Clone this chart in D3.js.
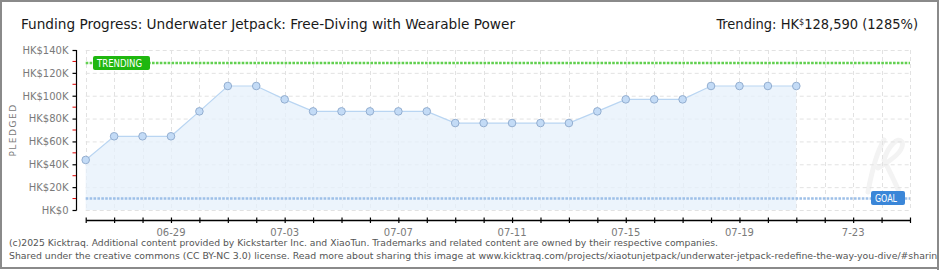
<!DOCTYPE html>
<html>
<head>
<meta charset="utf-8">
<script src="https://cdn.jsdelivr.net/npm/d3@7/dist/d3.min.js"></script>
<style>
  body { margin: 0; background: #fff; }
  svg { display: block; }
</style>
</head>
<body>
<svg width="940" height="270"></svg>
<script>
// data
var days = ["2025-06-26","2025-06-27","2025-06-28","2025-06-29","2025-06-30","2025-07-01","2025-07-02",
            "2025-07-03","2025-07-04","2025-07-05","2025-07-06","2025-07-07","2025-07-08","2025-07-09",
            "2025-07-10","2025-07-11","2025-07-12","2025-07-13","2025-07-14","2025-07-15","2025-07-16",
            "2025-07-17","2025-07-18","2025-07-19","2025-07-20","2025-07-21"];
var pledged = [43800, 64500, 64500, 64500, 86300, 108500, 108500,
               96800, 86300, 86300, 86300, 86300, 86300, 76100,
               76100, 76100, 76100, 76100, 86300, 96800, 96800,
               96800, 108500, 108500, 108500, 108500];
var tickDays = ["2025-06-29","2025-07-03","2025-07-07","2025-07-11","2025-07-15","2025-07-19","2025-07-23"];
var tickLabels = ["06-29","07-03","07-07","07-11","07-15","07-19","7-23"];
var yTicks = [0, 20000, 40000, 60000, 80000, 100000, 120000, 140000];
var yMinor = [10000, 30000, 50000, 70000, 90000, 110000, 130000];
var goal = 10000;
var trending = 128590;

var parse = d3.timeParse("%Y-%m-%d");
var svg = d3.select("svg");

var x = d3.scaleTime()
    .domain([parse("2025-06-26"), parse("2025-07-25")])
    .range([85.7, 910]);
var y = d3.scaleLinear().domain([0, 140000]).range([210, 50]);

var data = days.map(function(d, i) { return {date: parse(d), v: pledged[i]}; });
var allDays = d3.timeDay.range(x.domain()[0], d3.timeDay.offset(x.domain()[1], 1));

// frame
svg.append("rect").attr("x", 1).attr("y", 1).attr("width", 937).attr("height", 267)
  .attr("fill", "#fff").attr("stroke", "#8a8a8a").attr("stroke-width", 2);

// faint logo watermark (drawn as strokes)
svg.append("path")
  .attr("d", "M868,192 C872,170 878,150 884,140 M878,168 C892,160 905,150 902,142 C898,136 888,146 884,160 C890,172 896,184 900,194")
  .attr("fill", "none").attr("stroke", "#f3f3f3").attr("stroke-width", 5).attr("stroke-linecap", "round");

// grid
var grid = svg.append("g").attr("stroke", "#e2e2e2").attr("stroke-dasharray", "4,3").attr("stroke-width", 1);
grid.selectAll(".gy").data(yTicks).enter().append("line")
  .attr("x1", 85.7).attr("x2", 910)
  .attr("y1", function(d) { return y(d) + 0.5; }).attr("y2", function(d) { return y(d) + 0.5; });
grid.selectAll(".gx").data(allDays).enter().append("line")
  .attr("x1", function(d) { return Math.round(x(d)) + 0.5; }).attr("x2", function(d) { return Math.round(x(d)) + 0.5; })
  .attr("y1", 50).attr("y2", 210);

// area + line
var area = d3.area().x(function(d) { return x(d.date); }).y0(y(0)).y1(function(d) { return y(d.v); });
svg.append("path").datum(data).attr("d", area).attr("fill", "#e6f0fb").attr("fill-opacity", 0.75);
var line = d3.line().x(function(d) { return x(d.date); }).y(function(d) { return y(d.v); });
svg.append("path").datum(data).attr("d", line).attr("fill", "none").attr("stroke", "#b9d5f2").attr("stroke-width", 1.2);

// goal and trending lines
function dotted(val, col) {
  svg.append("line").attr("x1", 85.7).attr("x2", 910).attr("y1", y(val)).attr("y2", y(val))
    .attr("stroke", col).attr("stroke-width", 2.6).attr("stroke-dasharray", "2.6,1.3");
}
dotted(goal, "#9ec0e8");
dotted(trending, "#62d050");

// points
svg.selectAll(".pt").data(data).enter().append("circle")
  .attr("cx", function(d) { return x(d.date); }).attr("cy", function(d) { return y(d.v); })
  .attr("r", 3.8).attr("fill", "#c3dbf6").attr("stroke", "#93aed0").attr("stroke-width", 1);

// badges
function badge(bx, by, w, tw, col, label) {
  svg.append("rect").attr("x", bx).attr("y", by).attr("width", w).attr("height", 14)
    .attr("rx", 2).attr("fill", col);
  svg.append("text").attr("x", bx + 4).attr("y", by + 11).attr("font-family", "DejaVu Sans")
    .attr("font-size", 10).attr("textLength", tw).attr("lengthAdjust", "spacingAndGlyphs")
    .attr("fill", "#fff").text(label);
}
badge(93, 56, 57, 45, "#1fb70f", "TRENDING");
badge(871, 191, 34, 22, "#3a86d8", "GOAL");

// y axis
var ya = svg.append("g").attr("transform", "translate(76.5,0)")
  .call(d3.axisLeft(y).tickValues(yTicks).tickSize(4).tickPadding(4)
    .tickFormat(function(d) { return "HK$" + (d === 0 ? "0" : (d / 1000) + "K"); }));
ya.select(".domain").attr("stroke", "#000").attr("stroke-width", 1.2).attr("d", "M0,50V210.5");
ya.selectAll(".tick line").attr("stroke", "#000").attr("stroke-width", 1.2);
ya.selectAll(".tick text").attr("font-family", "DejaVu Sans").attr("font-size", 10)
  .attr("fill", "#7a7a7a").attr("dy", "0.34em");
svg.append("g").selectAll("line").data(yMinor).enter().append("line")
  .attr("x1", 72.5).attr("x2", 76).attr("y1", function(d) { return y(d); }).attr("y2", function(d) { return y(d); })
  .attr("stroke", "#dd0000").attr("stroke-width", 1);

svg.append("text").attr("transform", "translate(16,130) rotate(-90)").attr("text-anchor", "middle")
  .attr("font-family", "DejaVu Sans").attr("font-size", 9).attr("letter-spacing", 1.5)
  .attr("fill", "#7a7a7a").text("PLEDGED");

// x axis
var xa = svg.append("g").attr("transform", "translate(0,220)")
  .call(d3.axisBottom(x).tickValues(allDays).tickSizeInner(4).tickSizeOuter(0).tickFormat(""));
xa.select(".domain").attr("stroke", "#000").attr("stroke-width", 1.3);
xa.selectAll(".tick line").attr("stroke", "#000").attr("stroke-width", 1.2).attr("y1", -2.5).attr("y2", 3);
svg.append("g").selectAll("text").data(tickDays).enter().append("text")
  .attr("x", function(d) { return x(parse(d)); }).attr("y", 236).attr("text-anchor", "middle")
  .attr("font-family", "DejaVu Sans").attr("font-size", 10).attr("fill", "#7a7a7a")
  .text(function(d, i) { return tickLabels[i]; });

// title
svg.append("text").attr("x", 21).attr("y", 29).attr("font-family", "DejaVu Sans Condensed")
  .attr("font-size", 14.5).attr("fill", "#1a1a1a").attr("textLength", 494).attr("lengthAdjust", "spacingAndGlyphs")
  .text("Funding Progress: Underwater Jetpack: Free-Diving with Wearable Power");

var tr = svg.append("text").attr("x", 918).attr("y", 29).attr("text-anchor", "end")
  .attr("font-family", "DejaVu Sans Condensed").attr("font-size", 14.5).attr("fill", "#1a1a1a");
tr.append("tspan").text("Trending:  HK");
tr.append("tspan").attr("font-size", 9).attr("dy", -4).text("$");
tr.append("tspan").attr("dy", 4).text("128,590 (1285%)");

// footer
var f1 = svg.append("text").attr("x", 9).attr("y", 246).attr("font-family", "DejaVu Sans")
  .attr("font-size", 9).attr("fill", "#555")
  .text("(c)2025 Kicktraq. Additional content provided by Kickstarter Inc. and XiaoTun. Trademarks and related content are owned by their respective companies.");
var f2 = svg.append("text").attr("x", 9).attr("y", 259).attr("font-family", "DejaVu Sans")
  .attr("font-size", 9).attr("fill", "#555")
  .text("Shared under the creative commons (CC BY-NC 3.0) license. Read more about sharing this image at www.kicktraq.com/projects/xiaotunjetpack/underwater-jetpack-redefine-the-way-you-dive/#sharing");
var ratio = 709 / f1.node().getComputedTextLength();
f1.attr("textLength", 709).attr("lengthAdjust", "spacingAndGlyphs");
f2.attr("textLength", f2.node().getComputedTextLength() * ratio * 1.01).attr("lengthAdjust", "spacingAndGlyphs");

// re-draw right frame edge over clipped footer
svg.append("line").attr("x1", 938).attr("x2", 938).attr("y1", 0).attr("y2", 270).attr("stroke", "#8a8a8a").attr("stroke-width", 2);
svg.append("rect").attr("x", 939).attr("y", 0).attr("width", 1).attr("height", 270).attr("fill", "#fff");
</script>
</body>
</html>
